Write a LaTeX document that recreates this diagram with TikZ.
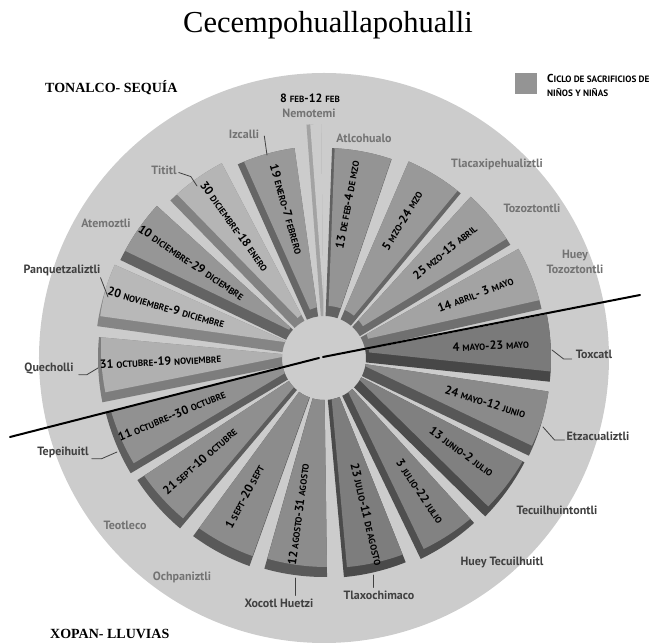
\documentclass[tikz,border=0pt]{standalone}
\usepackage{fontspec}
\setmainfont{Liberation Serif}
\newfontfamily\etiq{PT Sans}
\usepackage{tikz}
\definecolor{discogris}{rgb}{0.8,0.8,0.8}
\definecolor{textogris}{rgb}{0.45,0.45,0.45}
\definecolor{textoosc}{rgb}{0.25,0.25,0.25}
\definecolor{muestragris}{rgb}{0.58,0.58,0.58}
\newcommand{\mes}[1]{{\fontsize{9}{10}\selectfont #1}}

\begin{document}
\begin{tikzpicture}[line cap=round,line join=round,x=1pt,y=1pt,
    nombre/.style={font=\etiq\bfseries\fontsize{12}{13}\selectfont,text=textogris,inner sep=0pt},
    nombreosc/.style={nombre,text=textoosc},
    fecha/.style={font=\etiq\bfseries\fontsize{12}{13}\selectfont,text=black,inner sep=0pt},
    guia/.style={draw=textoosc,line width=0.8pt},
    division/.style={line width=2pt,color=black}]
  \useasboundingbox (-324,-286) rectangle (346,358);
  \fill[color=discogris] (0,0) circle (285);
  % meses
  \foreach \ang/\hw/\rad/\gr/\lab [count=\i] in {
      79.5/8.3/210/42/{13 \mes{DE FEB}-4 \mes{DE MZO}},
      58.5/8.2/214/40/{5 \mes{MZO}-24 \mes{MZO}},
      39.5/8.2/218/38/{25 \mes{MZO}-13 \mes{ABRIL}},
      21/8.3/223/36/{14 \mes{ABRIL}- 3 \mes{MAYO}},
      2.5/8.5/227/52/{4 \mes{MAYO}-23 \mes{MAYO}},
      -17/8.5/227/46/{24 \mes{MAYO}-12 \mes{JUNIO}},
      -36/8.5/226/50/{13 \mes{JUNIO}-2 \mes{JULIO}},
      -56/8.3/223/49/{3 \mes{JULIO}-22 \mes{JULIO}},
      -76.5/8.3/220/51/{23 \mes{JULIO}-11 \mes{DE AGOSTO}},
      -97.5/8.3/219/45/{12 \mes{AGOSTO}-31 \mes{AGOSTO}},
      -118/8.3/221/45/{1 \mes{SEPT}-20 \mes{SEPT}},
      -138.5/8.3/223/44/{21 \mes{SEPT}-10 \mes{OCTUBRE}},
      -157.5/8.3/225/43/{11 \mes{OCTUBRE}-{}-30 \mes{OCTUBRE}},
      -177/8.3/226/31/{31 \mes{OCTUBRE}-19 \mes{NOVIEMBRE}},
      164/8/229/28/{20 \mes{NOVIEMBRE}-9 \mes{DICIEMBRE}},
      146/8.3/226/41/{10 \mes{DICIEMBRE}-29 \mes{DICIEMBRE}},
      126/8.3/220/29/{30 \mes{DICIEMBRE}-18 \mes{ENERO}},
      106/8/212/40/{19 \mes{ENERO}-7 \mes{FEBRERO}}}{
    \pgfmathsetmacro{\aL}{\ang-\hw}
    \pgfmathsetmacro{\aR}{\ang+\hw}
    \pgfmathsetmacro{\gb}{\gr+20}
    \pgfmathsetmacro{\rot}{ifthenelse(cos(\ang)<0,\ang+180,\ang)}
    \pgfmathsetmacro{\tr}{0.73*\rad}
    \begin{scope}
      \clip (\aL:42) -- (\aL:\rad) arc[start angle=\aL,end angle=\aR,radius=\rad] -- (\aR:42) arc[start angle=\aR,end angle=\aL,radius=42] -- cycle;
      \fill[color=black!\gb] (-300,-300) rectangle (300,300);
      \fill[color=black!\gr,shift={(3,10)}] (\aL:42) -- (\aL:\rad) arc[start angle=\aL,end angle=\aR,radius=\rad] -- (\aR:42) arc[start angle=\aR,end angle=\aL,radius=42] -- cycle;
    \end{scope}
    \node[fecha,rotate=\rot,shift={(1.5,5)}] (fecha\i) at (\ang:\tr) {\lab};
  }
  % nemotemi
  \begin{scope}
    \clip (90.7:42) -- (90.7:234) arc[start angle=90.7,end angle=94.3,radius=234] -- (94.3:42) arc[start angle=94.3,end angle=90.7,radius=42] -- cycle;
    \fill[color=black!36] (-300,-300) rectangle (300,300);
    \fill[color=black!20,shift={(3,10)}] (90.7:42) -- (90.7:234) arc[start angle=90.7,end angle=94.3,radius=234] -- (94.3:42) arc[start angle=94.3,end angle=90.7,radius=42] -- cycle;
  \end{scope}
  \node[fecha] (fechanemo) at (-14,260) {8 \mes{FEB}-12 \mes{FEB}};
  \node[nombre] (nemotemi) at (-15,245) {Nemotemi};
  % nombres
  \node[nombre] (izcalli) at (-80,224) {Izcalli};
  \node[nombre] (atlcohualo) at (40,220) {Atlcohualo};
  \node[nombre] (tlacaxipehualiztli) at (173,194) {Tlacaxipehualiztli};
  \node[nombre] (tititl) at (-160,188) {Tititl};
  \node[nombre] (tozoztontli) at (208,150) {Tozoztontli};
  \node[nombre,align=center] (hueytozoztontli) at (251,96) {Huey\\[2pt]Tozoztontli};
  \node[nombre] (atemoztli) at (-218,135) {Atemoztli};
  \node[nombreosc] (panquetzaliztli) at (-262,88) {Panquetzaliztli};
  \node[nombreosc] (quecholli) at (-275,-11) {Quecholli};
  \node[nombreosc] (toxcatl) at (270,4) {Toxcatl};
  \node[nombreosc] (etzacualiztli) at (274,-78) {Etzacualiztli};
  \node[nombreosc] (tepeihuitl) at (-261,-94) {Tepeihuitl};
  \node[nombreosc] (tecuilhuintontli) at (233,-152) {Tecuilhuintontli};
  \node[nombre] (teotleco) at (-199,-167) {Teotleco};
  \node[nombreosc] (hueytecuilhuitl) at (178,-204) {Huey Tecuilhuitl};
  \node[nombre] (ochpaniztli) at (-142,-219) {Ochpaniztli};
  \node[nombreosc] (tlaxochimaco) at (55,-237) {Tlaxochimaco};
  \node[nombreosc] (xocotlhuetzi) at (-45,-245) {Xocotl Huetzi};
  % guias
  \coordinate (izcalli-fin) at (-57,203);
  \coordinate (tititl-fin) at (-127,172);
  \coordinate (panque-fin) at (-216,61);
  \coordinate (quecholli-fin) at (-226,-10);
  \coordinate (tepeihuitl-fin) at (-207,-94);
  \coordinate (xocotl-fin) at (-29,-220);
  \coordinate (tlaxo-fin) at (49,-217);
  \coordinate (etza-fin) at (219,-69);
  \coordinate (toxcatl-fin) at (228,8);
  \draw[guia] (izcalli.east) ++(5,-2) -- (izcalli-fin);
  \draw[guia] (tititl.south east) ++(2,2) -- ++(12,-4) -- (tititl-fin);
  \draw[guia] (panquetzaliztli.south east) ++(0,-2) -- (panque-fin);
  \draw[guia] (quecholli.south east) ++(5,0) -- ++(8,0) -- (quecholli-fin);
  \draw[guia] (tepeihuitl.south east) ++(3,-1) -- ++(10,0) -- (tepeihuitl-fin);
  \draw[guia] (xocotlhuetzi.north) ++(16,3) -- (xocotl-fin);
  \draw[guia] (tlaxochimaco.north) ++(-6,3) -- (tlaxo-fin);
  \draw[guia] (etzacualiztli.west) ++(-2,-4) -- ++(-10,0) -- (etza-fin);
  \draw[guia] (toxcatl.west) ++(-4,-5) -- ++(-8,0) -- (toxcatl-fin);
  % division
  \coordinate (divA) at (-314,-79);
  \coordinate (divB) at (-5,0);
  \coordinate (divC) at (-1,1);
  \coordinate (divD) at (316,63);
  \draw[division] (divA) -- (divB);
  \draw[division] (divC) -- (divD);
  % titulo y leyenda
  \node[anchor=base,inner sep=0pt] (titulo) at (4,325) {\fontsize{30.5}{31}\selectfont Cecempohuallapohualli};
  \node[anchor=west,inner sep=0pt] (tonalco) at (-279,270) {\fontsize{14}{14}\selectfont\bfseries TONALCO- SEQUÍA};
  \node[anchor=west,inner sep=0pt] (xopan) at (-274,-276) {\fontsize{14}{14}\selectfont\bfseries XOPAN- LLUVIAS};
  \node[fill=muestragris,minimum width=22,minimum height=21,inner sep=0pt,anchor=north west] (muestra) at (191,285) {};
  \node[anchor=west,inner sep=0pt,font=\etiq\bfseries] (leyenda1) at (223,280) {{\fontsize{11.5}{11}\selectfont C}{\fontsize{9.2}{11}\selectfont ICLO DE SACRIFICIOS DE}};
  \node[anchor=west,inner sep=0pt,font=\etiq\bfseries] (leyenda2) at (223,265) {{\fontsize{9.2}{11}\selectfont NIÑOS Y NIÑAS}};
\end{tikzpicture}
\end{document}
